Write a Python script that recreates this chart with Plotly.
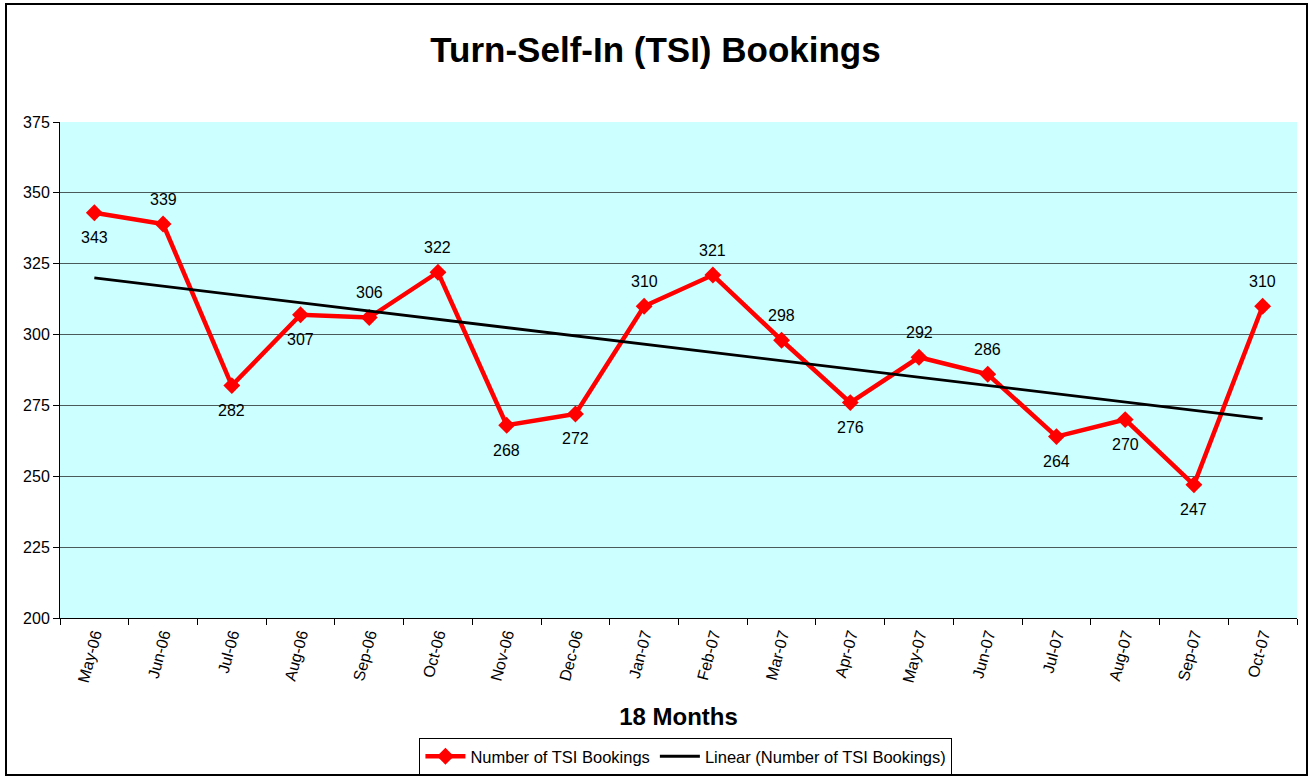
import numpy as np
import plotly.graph_objects as go

months = ["May-06", "Jun-06", "Jul-06", "Aug-06", "Sep-06", "Oct-06", "Nov-06", "Dec-06",
          "Jan-07", "Feb-07", "Mar-07", "Apr-07", "May-07", "Jun-07", "Jul-07", "Aug-07",
          "Sep-07", "Oct-07"]
bookings = [343, 339, 282, 307, 306, 322, 268, 272, 310, 321, 298, 276, 292, 286, 264, 270, 247, 310]
label_side = ["below", "above", "below", "below", "above", "above", "below", "below", "above",
              "above", "above", "below", "above", "above", "below", "below", "below", "above"]
y_ticks = [200, 225, 250, 275, 300, 325, 350, 375]

idx = np.arange(len(bookings))
slope, intercept = np.polyfit(idx, bookings, 1)
trend = slope * idx + intercept

FONT = "Arial, Liberation Sans, sans-serif"

fig = go.Figure()
fig.add_trace(go.Scatter(
    x=months, y=bookings, mode="lines+markers", name="Number of TSI Bookings",
    line=dict(color="#FF0000", width=4.5),
    marker=dict(symbol="diamond", size=13, color="#FF0000"),
))
fig.add_trace(go.Scatter(
    x=months, y=trend, mode="lines", name="Linear (Number of TSI Bookings)",
    line=dict(color="#000000", width=2.8),
))

for m, v, s in zip(months, bookings, label_side):
    fig.add_annotation(x=m, y=v, text=str(v), showarrow=False,
                       yshift=25 if s == "above" else -25,
                       font=dict(family=FONT, size=16, color="#000"))

fig.add_shape(type="rect", xref="paper", yref="paper",
              x0=-54/1237, x1=1+10/1237, y0=-157/496, y1=1+118/496,
              line=dict(color="#000", width=2), fillcolor="rgba(0,0,0,0)", layer="below")

fig.update_layout(
    width=1311, height=777,
    margin=dict(l=60, r=14, t=122, b=159, autoexpand=False),
    paper_bgcolor="white", plot_bgcolor="#CCFFFF",
    font=dict(family=FONT, color="#000"),
    title=dict(text="<b>Turn-Self-In (TSI) Bookings</b>", x=0.5, xanchor="center",
               y=1 - 50/777, yanchor="middle", font=dict(size=35, color="#000")),
    showlegend=True,
    legend=dict(orientation="h", x=0.506, xanchor="center",
                yref="container", y=1 - 738/777, yanchor="top",
                bordercolor="#000", borderwidth=1, bgcolor="white",
                font=dict(size=16.5), itemwidth=40, tracegroupgap=0),
    xaxis=dict(
        type="category", tickson="boundaries", ticks="outside", ticklen=6, tickcolor="#000",
        showline=True, linecolor="#000", linewidth=1, showgrid=False, automargin=False,
        tickangle=-75, tickfont=dict(size=16), range=[-0.5, 17.5],
        title=dict(text="<b>18 Months</b>", font=dict(size=24), standoff=24),
    ),
    yaxis=dict(
        range=[200, 375], tickvals=y_ticks, ticks="outside", ticklen=6, tickcolor="#000",
        showline=True, linecolor="#000", linewidth=1, showgrid=True, automargin=False,
        gridcolor="#4a5a5a", gridwidth=1, tickfont=dict(size=16), zeroline=False,
    ),
)

fig.write_html("out.html", config={"displayModeBar": False},
               post_script="document.body.style.margin='0';document.body.style.overflow='hidden';")
